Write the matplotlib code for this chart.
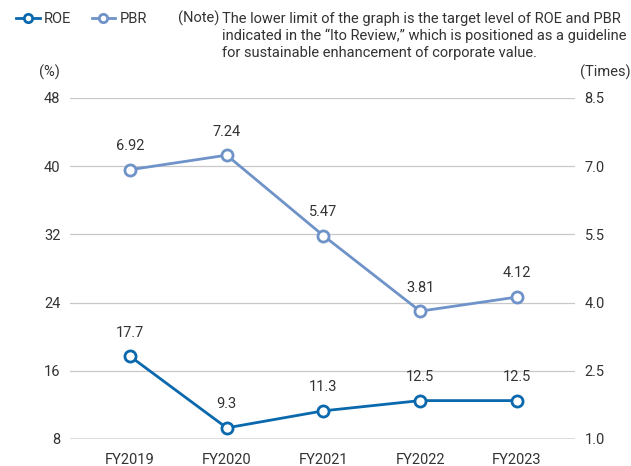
import matplotlib.pyplot as plt
from matplotlib.lines import Line2D

# Data
years = ['FY2019', 'FY2020', 'FY2021', 'FY2022', 'FY2023']
roe = [17.7, 9.3, 11.3, 12.5, 12.5]
pbr = [6.92, 7.24, 5.47, 3.81, 4.12]
roe_labels = ['17.7', '9.3', '11.3', '12.5', '12.5']
pbr_labels = ['6.92', '7.24', '5.47', '3.81', '4.12']
left_ticks = [8, 16, 24, 32, 40, 48]
right_ticks = [1.0, 2.5, 4.0, 5.5, 7.0, 8.5]

roe_color = '#0a68ad'
pbr_color = '#6f93c8'
text_color = '#333333'

plt.rcParams['font.family'] = ['Roboto', 'DejaVu Sans']

fig = plt.figure(figsize=(6.31, 4.66), dpi=100)
ax = fig.add_axes([0.111, 0.058, 0.8, 0.732])
ax2 = ax.twinx()

x = list(range(len(years)))

ax.set_ylim(8, 48)
ax2.set_ylim(1.0, 8.5)
ax.set_xlim(-0.62, 4.6)

for t in left_ticks[1:]:
    ax.axhline(t, color='#c8c8c8', lw=0.9, zorder=0)
ax.axhline(8, color='#555555', lw=1.0, zorder=1)

ax.plot(x, roe, color=roe_color, lw=2, marker='o', markersize=8,
        markerfacecolor='white', markeredgewidth=2, zorder=3, clip_on=False)
ax2.plot(x, pbr, color=pbr_color, lw=2, marker='o', markersize=8,
         markerfacecolor='white', markeredgewidth=2, zorder=3, clip_on=False)

for xi, v, lab in zip(x, roe, roe_labels):
    ax.annotate(lab, (xi, v), xytext=(0, 12), textcoords='offset points',
                ha='center', va='bottom', fontsize=10.5, color=text_color)
for xi, v, lab in zip(x, pbr, pbr_labels):
    ax2.annotate(lab, (xi, v), xytext=(0, 12), textcoords='offset points',
                 ha='center', va='bottom', fontsize=10.5, color=text_color)

for a in (ax, ax2):
    for s in a.spines.values():
        s.set_visible(False)

ax.set_xticks(x)
ax.set_xticklabels(years, fontsize=10.5, color=text_color)
ax.set_yticks(left_ticks)
ax.set_yticklabels([str(t) for t in left_ticks], fontsize=10.5, color=text_color)
ax2.set_yticks(right_ticks)
ax2.set_yticklabels([f'{t:.1f}' for t in right_ticks], fontsize=10.5, color=text_color)
ax.tick_params(axis='both', length=0, pad=7)
ax2.tick_params(axis='y', length=0, pad=7)
ax.tick_params(axis='x', pad=10)

# unit labels
fig.text(0.078, 0.845, '(%)', fontsize=10.5, color=text_color, ha='center', va='center')
fig.text(0.96, 0.845, '(Times)', fontsize=10.5, color=text_color, ha='center', va='center')

# legend
handles = [
    Line2D([0], [0], color=roe_color, lw=2, marker='o', markersize=6,
           markerfacecolor='white', markeredgewidth=2),
    Line2D([0], [0], color=pbr_color, lw=2, marker='o', markersize=6,
           markerfacecolor='white', markeredgewidth=2),
]
fig.legend(handles, ['ROE', 'PBR'], loc='center left', bbox_to_anchor=(0.005, 0.96),
           ncol=2, frameon=False, fontsize=10.5, handlelength=1.6, handletextpad=0.3,
           columnspacing=1.4, labelcolor=text_color)

# note
fig.text(0.282, 0.961, '(Note)', fontsize=10.5, color=text_color, va='center')
note = ('The lower limit of the graph is the target level of ROE and PBR\n'
        'indicated in the \u201cIto Review,\u201d which is positioned as a guideline\n'
        'for sustainable enhancement of corporate value.')
fig.text(0.352, 0.975, note, fontsize=10.5, color=text_color, va='top', linespacing=1.25)

fig.savefig('out.png', dpi=100)
